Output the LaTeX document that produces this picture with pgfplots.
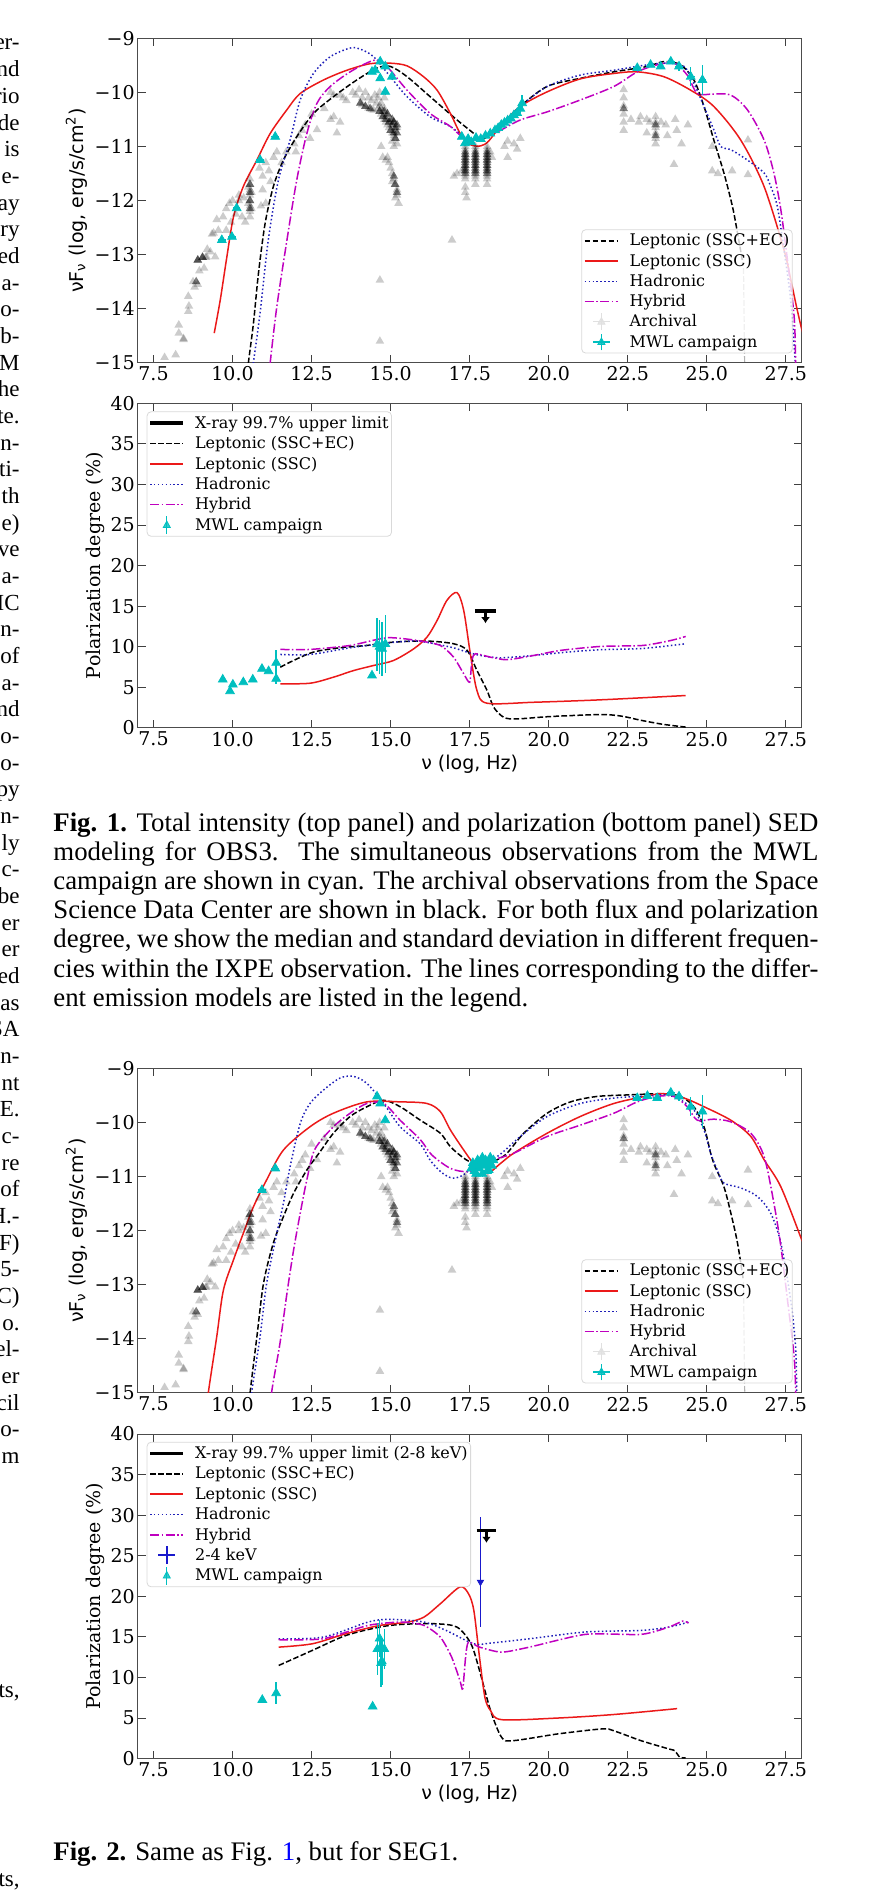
\documentclass[border=0pt]{standalone}
\usepackage{fontspec}
\setmainfont{Liberation Serif}
\newfontfamily\dvs{DejaVu Serif}
\newfontfamily\dvsans{DejaVu Sans}
\usepackage{pgfplots}
\usepackage{pgfplotstable}
\pgfplotsset{compat=1.18}
\usetikzlibrary{arrows.meta}

\definecolor{mcyan}{rgb}{0,0.75,0.75}
\definecolor{mred}{rgb}{0.92,0.1,0.1}
\definecolor{mblue}{rgb}{0.12,0.12,0.72}
\definecolor{mmag}{rgb}{0.75,0,0.75}
\definecolor{kevblue}{rgb}{0.1,0.1,0.8}

\tikzset{
  dashk/.style={black, line width=0.75pt, dash pattern=on 2.8pt off 1.2pt},
  solr/.style={mred, line width=0.75pt},
  dotb/.style={mblue, line width=0.75pt, dash pattern=on 0.75pt off 1.2pt},
  ddm/.style={mmag, line width=0.75pt, dash pattern=on 4.6pt off 1.2pt on 0.75pt off 1.2pt},
}

% legend samples
\newcommand\legpad{\path[draw=none, fill=none] (0pt,-0.1pt) rectangle (22.5pt,0.1pt);}
\newcommand\legline[1]{\legpad\draw[#1] (1pt,0pt)--(17.7pt,0pt);}
\newcommand\legcross[1]{\legpad\draw[#1, line width=0.7pt] (5.2pt,0pt)--(13.5pt,0pt) (9.35pt,-4.2pt)--(9.35pt,4.2pt);
  \fill[#1, sharp corners] (9.35pt,2pt)--(7.6pt,-1.2pt)--(11.1pt,-1.2pt)--cycle;}
\newcommand\legvbar[1]{\legpad\draw[#1, line width=0.7pt] (9.35pt,-4.5pt)--(9.35pt,4.5pt);
  \fill[#1, sharp corners] (9.35pt,2pt)--(7.6pt,-1.2pt)--(11.1pt,-1.2pt)--cycle;}
\newcommand\legplus[1]{\legpad\draw[#1, line width=0.8pt] (5.2pt,0pt)--(13.5pt,0pt) (9.35pt,-4.5pt)--(9.35pt,4.5pt);}

\pgfplotsset{
  panel/.style={
    scale only axis, width=332pt, height=162.3pt, anchor=north west,
    xmin=7, xmax=28,
    xtick={7.5,10,12.5,15,17.5,20,22.5,25,27.5},
    xticklabels={7.5,10.0,12.5,15.0,17.5,20.0,22.5,25.0,27.5},
    xtick pos=both, ytick pos=both, xticklabel pos=lower, yticklabel pos=left,
    tick align=inside, major tick length=4pt,
    every tick/.style={black!75, line width=0.45pt},
    axis line style={black!70, line width=0.5pt},
    tick label style={font=\dvs\fontsize{9.5}{11}\selectfont},
    xticklabel style={inner sep=1.8pt},
    yticklabel style={inner sep=1.3pt},
    legend cell align=left,
    legend style={draw=black!15, fill=white, fill opacity=0.8, text opacity=1,
      rounded corners=2pt, inner sep=0.5pt, row sep=0pt, nodes={inner sep=1pt}},
  },
  sedpanel/.style={panel, ymin=-15, ymax=-9, ytick={-15,-14,...,-9},
    yticklabels={−15,−14,−13,−12,−11,−10,−9},
    ylabel={\dvsans νF\textsubscript{ν} (log, erg/s/cm\textsuperscript{2})},
    ylabel style={font=\fontsize{9.5}{11}\selectfont, at={(axis description cs:-0.0819,0.5)}, anchor=base},
    legend style={at={(0.9864,0.029)}, anchor=south east, font=\dvs\fontsize{8}{9.45}\selectfont}},
  polpanel/.style={panel, ymin=0, ymax=40, ytick={0,5,...,40},
    yticklabels={0,5,10,15,20,25,30,35,40},
    ylabel={\dvs Polarization degree (\%)},
    ylabel style={font=\fontsize{9.5}{11}\selectfont, at={(axis description cs:-0.0557,0.5)}, anchor=base},
    xlabel={\dvsans ν (log, Hz)},
    xlabel style={font=\fontsize{9.5}{11}\selectfont, at={(axis description cs:0.5,-0.127)}, anchor=base},
    legend style={at={(0.01355,0.975)}, anchor=north west, font=\dvs\fontsize{8}{9.58}\selectfont}},
  arch/.style={forget plot, only marks, mark=triangle*, mark size=2.5pt,
    mark options={draw opacity=0, fill=black, fill opacity=0.2}},
  archdense/.style={forget plot, only marks, mark=triangle*, mark size=2.5pt,
    mark options={draw opacity=0, fill=black, fill opacity=0.5}},
  mwl/.style={forget plot, only marks, mcyan, mark=triangle*, mark size=2.5pt,
    error bars/.cd, x dir=both, x explicit, y dir=both, y explicit,
    error bar style={mcyan, line width=0.7pt}, error mark=none},
}

% archival SSDC points (same for both epochs)
\pgfplotstableread{
x y
7.85 -14.9
8.2 -14.85
8.3 -14.3
8.3 -14.45
8.45 -14.55
8.45 -14.57
8.6 -14.05
8.6 -13.77
8.62 -13.95
8.75 -13.5
8.8 -13.6
8.9 -13.55
8.9 -13.1
8.9 -13.1
8.95 -13.3
9.05 -13.05
9.05 -13.05
9.1 -13.25
9.15 -13.05
9.18 -13.04
9.2 -12.9
9.3 -12.95
9.35 -12.62
9.4 -12.6
9.45 -13.04
9.55 -12.55
9.5 -12.35
9.7 -12.3
9.8 -12.15
9.9 -12.05
10.0 -12.0
10.1 -12.25
10.2 -12.0
10.2 -11.9
10.3 -12.3
10.35 -11.95
9.95 -12.4
9.8 -12.55
10.4 -12.4
10.55 -11.6
10.55 -11.7
10.55 -11.8
10.55 -11.9
10.55 -12.0
10.55 -12.1
10.55 -12.2
10.55 -12.3
10.5 -11.75
10.6 -11.85
10.5 -12.05
10.6 -12.15
10.85 -11.4
10.95 -11.55
11.05 -11.3
11.15 -11.45
11.3 -11.2
11.4 -11.1
11.55 -11.3
11.7 -11.1
10.9 -12.1
11.05 -12.05
11.2 -11.65
10.95 -11.8
11.95 -10.95
12.1 -10.8
12.2 -10.7
12.3 -10.6
12.45 -10.85
12.5 -10.4
12.67 -10.69
12.0 -11.1
13.1 -10.5
13.2 -10.45
13.4 -10.55
12.9 -10.3
13.3 -10.75
13.1 -10.0
13.4 -10.05
13.2 -10.05
13.5 -10.1
13.8 -10.0
13.9 -10.05
14.0 -9.95
14.1 -10.1
14.2 -10.0
14.3 -10.1
14.4 -10.15
13.6 -10.15
14.04 -10.2
14.1 -10.23
14.2 -10.26
14.3 -10.29
14.4 -10.32
14.46 -10.33
14.5 -10.05
14.55 -10.2
14.6 -10.3
14.65 -10.35
14.7 -10.4
14.75 -10.45
14.8 -10.5
14.85 -10.55
14.9 -10.6
14.95 -10.65
15.0 -10.7
15.05 -10.75
15.1 -10.8
15.15 -10.7
15.2 -10.65
15.1 -10.55
15.0 -10.5
14.9 -10.4
14.8 -10.3
14.7 -10.2
14.6 -10.1
15.05 -10.9
15.15 -10.85
15.2 -10.95
15.1 -11.0
14.65 -10.0
14.8 -10.1
14.7 -10.3
14.95 -10.55
14.85 -10.45
14.75 -10.35
14.65 -10.25
14.75 -11.2
14.85 -11.25
14.9 -11.2
14.95 -11.3
15.0 -11.4
15.05 -11.5
15.1 -11.6
15.15 -11.7
15.2 -11.8
15.2 -11.9
15.15 -11.95
15.05 -11.65
15.25 -12.05
14.7 -11.0
14.66 -13.47
14.66 -14.6
16.94 -12.73
17.0 -11.55
17.1 -11.5
17.25 -11.45
17.4 -11.95
17.36 -11.0
17.36 -11.05
17.36 -11.15
17.36 -11.25
17.36 -11.35
17.36 -11.45
17.36 -11.55
17.36 -11.6
17.36 -11.75
17.36 -11.85
17.68 -11.0
17.68 -11.05
17.68 -11.15
17.68 -11.25
17.68 -11.35
17.68 -11.45
17.68 -11.55
17.68 -11.6
17.68 -11.7
18.05 -11.0
18.05 -11.05
18.05 -11.15
18.05 -11.25
18.05 -11.35
18.05 -11.45
18.05 -11.55
18.05 -11.6
18.05 -11.7
18.15 -11.1
18.2 -11.2
18.6 -11.0
18.7 -10.9
18.9 -10.95
19.1 -10.85
19.0 -11.05
18.7 -11.2
22.37 -9.95
22.37 -10.1
22.37 -10.25
22.37 -10.4
22.37 -10.55
22.37 -10.7
22.6 -10.5
22.85 -10.55
22.9 -10.45
23.1 -10.5
23.2 -10.55
23.1 -10.75
23.38 -10.45
23.38 -10.55
23.38 -10.65
23.38 -10.75
23.38 -10.85
23.38 -10.95
23.55 -10.55
23.7 -10.6
23.75 -10.8
24.0 -10.5
24.05 -10.7
24.4 -10.6
23.96 -11.33
24.2 -10.95
25.17 -11.0
25.17 -11.45
25.35 -11.5
25.8 -11.45
26.3 -10.88
26.3 -11.52
}\archival

% the densest parts of the archival SED (many overlapping epochs)
\pgfplotstableread{
x y
8.9 -13.1
9.05 -13.05
8.85 -13.5
10.55 -11.7
10.55 -11.85
10.55 -12.0
10.55 -12.15
14.04 -10.2
14.2 -10.26
14.35 -10.3
14.65 -10.35
14.75 -10.45
14.85 -10.5
14.95 -10.55
15.05 -10.6
15.15 -10.65
15.2 -10.75
15.1 -10.75
14.9 -10.4
14.8 -10.35
15.0 -10.7
15.1 -10.55
15.15 -10.85
15.05 -10.5
15.2 -10.6
15.1 -11.55
15.14 -11.7
15.2 -11.85
17.36 -11.1
17.36 -11.2
17.36 -11.3
17.36 -11.4
17.36 -11.5
17.36 -11.15
17.36 -11.25
17.36 -11.35
17.36 -11.45
17.68 -11.1
17.68 -11.2
17.68 -11.3
17.68 -11.4
17.68 -11.5
17.68 -11.15
17.68 -11.25
17.68 -11.35
17.68 -11.45
18.05 -11.1
18.05 -11.2
18.05 -11.3
18.05 -11.4
18.05 -11.5
18.05 -11.15
18.05 -11.25
18.05 -11.35
18.05 -11.45
22.37 -10.3
23.38 -10.6
23.38 -10.8
}\archdense

\begin{document}
\begin{tikzpicture}
\useasboundingbox (0pt,0pt) rectangle (436.5pt,-949pt);

% end of the neighbouring text column
\foreach \t [count=\k from 0, evaluate=\k as \yy using -(50+26.67*\k)*0.5] in
  {er-,nd,rio,de,is,e-,ay,ry,ed,a-,o-,b-,M,he,te.,n-,ti-,th,e),ve,a-,IC,n-,of,a-,nd,o-,o-,py,n-,
   ly,c-,be,er,er,ed,as,SA,n-,nt,E.,c-,re,of,H.-,F),5-,C),o.,el-,er,cil,o-,m}
  \node[anchor=base east, inner sep=0pt, font=\fontsize{11.5}{13}\selectfont] at (10pt,\yy pt) {\t};
\node[anchor=base east, inner sep=0pt, font=\fontsize{11.5}{13}\selectfont] at (10pt,-848.5pt) {ts,};
\node[anchor=base east, inner sep=0pt, font=\fontsize{11.5}{13}\selectfont] at (10pt,-943pt) {ts,};

% ---------- Fig. 1, total intensity ----------
\begin{axis}[sedpanel, at={(68.85pt,-19.15pt)}]
\addplot[arch] table[x=x,y=y] {\archival};
\addplot[archdense] table[x=x,y=y] {\archdense};
\addplot[forget plot, dashk, smooth, tension=0.5] coordinates {
(10.45,-15.3)(10.5,-15.0)(10.66,-14.27)(10.82,-13.34)(11.03,-12.42)(11.29,-11.74)(11.61,-11.25)
(12.03,-10.82)(12.56,-10.39)(13.19,-10.08)(13.93,-9.77)(14.57,-9.55)(14.99,-9.52)(15.52,-9.71)
(16.25,-10.08)(17.1,-10.51)(17.63,-10.76)(17.84,-10.88)(18.37,-10.69)(19.1,-10.26)(19.95,-9.89)
(21.0,-9.74)(22.06,-9.62)(23.12,-9.52)(23.64,-9.43)(24.17,-9.49)(24.59,-9.77)(24.91,-10.26)
(25.22,-10.88)(25.54,-11.49)(25.81,-12.11)(25.97,-12.6)(26.15,-13.2)};
\addplot[forget plot, black!30, line width=0.6pt, dash pattern=on 2.8pt off 1.2pt] coordinates {(26.16,-13.25)(26.2,-15.2)};
\addplot[forget plot, solr, smooth, tension=0.5] coordinates {
(9.42,-14.45)(9.61,-13.84)(9.82,-13.04)(10.03,-12.3)(10.34,-11.74)(10.77,-11.25)(11.19,-10.76)
(11.72,-10.32)(12.14,-10.02)(12.88,-9.77)(13.62,-9.59)(14.35,-9.47)(14.99,-9.46)(15.52,-9.51)
(16.04,-9.71)(16.47,-9.96)(16.89,-10.39)(17.2,-10.76)(17.5,-10.96)(17.84,-10.99)(18.1,-10.9)
(18.5,-10.6)(19.1,-10.26)(19.95,-9.99)(21.0,-9.75)(22.06,-9.65)(22.8,-9.62)(23.64,-9.71)
(24.49,-9.96)(25.22,-10.26)(26.07,-10.88)(26.81,-11.74)(27.44,-12.91)(27.65,-13.45)(27.85,-14.0)(28.05,-14.5)};
\addplot[forget plot, dotb, smooth, tension=0.5] coordinates {
(10.62,-15.3)(10.66,-15.0)(10.87,-14.08)(11.13,-12.73)(11.45,-11.62)(11.82,-10.88)(12.14,-10.14)
(12.56,-9.65)(13.09,-9.34)(13.72,-9.18)(14.04,-9.2)(14.46,-9.34)(14.99,-9.71)(15.52,-10.08)
(16.25,-10.45)(16.89,-10.63)(17.31,-10.82)(17.63,-10.88)(17.84,-10.85)(18.37,-10.66)(19.1,-10.26)
(19.95,-9.89)(21.0,-9.68)(22.06,-9.59)(23.12,-9.49)(23.75,-9.46)(24.28,-9.52)(24.59,-9.83)
(24.91,-10.26)(25.22,-10.69)(25.44,-11.0)(25.76,-11.06)(26.28,-11.25)(26.81,-11.49)(27.02,-11.74)
(27.23,-12.11)(27.44,-12.91)(27.65,-13.84)(27.8,-15.0)(27.82,-15.3)};
\addplot[forget plot, ddm, smooth, tension=0.5] coordinates {
(11.15,-15.3)(11.19,-15.0)(11.4,-13.96)(11.72,-12.73)(12.03,-11.62)(12.35,-10.76)(12.67,-10.2)
(13.09,-9.89)(13.72,-9.62)(14.35,-9.43)(14.67,-9.41)(14.99,-9.59)(15.52,-9.96)(16.25,-10.39)
(16.89,-10.63)(17.31,-10.85)(17.63,-10.88)(18.37,-10.73)(19.1,-10.51)(19.95,-10.36)(21.0,-10.14)
(22.06,-9.89)(22.8,-9.62)(23.43,-9.49)(23.96,-9.46)(24.38,-9.68)(24.7,-10.02)(25.22,-10.03)
(25.76,-10.05)(26.28,-10.32)(26.81,-10.88)(27.12,-11.49)(27.34,-12.17)(27.55,-13.1)(27.76,-14.14)
(27.81,-15.0)(27.82,-15.3)};
\addplot[mwl] coordinates {
(9.66,-12.73) +- (0.12,0.04) (9.98,-12.67) +- (0.12,0.04) (10.13,-12.14) +- (0.12,0.04)
(10.87,-11.25) +- (0.12,0.04) (11.35,-10.82) +- (0.12,0.05)
(14.41,-9.62) +- (0.1,0.04) (14.51,-9.59) +- (0.1,0.04) (14.67,-9.43) +- (0.1,0.05)
(14.83,-9.52) +- (0.1,0.04) (14.67,-9.74) +- (0.1,0.05) (15.04,-9.71) +- (0.1,0.04)
(14.83,-9.99) +- (0.1,0.05)
(17.25,-10.82) +- (0.08,0.05) (17.35,-10.94) +- (0.08,0.05) (17.45,-10.86) +- (0.08,0.05)
(17.55,-10.92) +- (0.08,0.05) (17.7,-10.84) +- (0.08,0.05) (17.85,-10.86) +- (0.08,0.05)
(18.0,-10.8) +- (0.08,0.05) (18.15,-10.76) +- (0.08,0.05) (18.3,-10.7) +- (0.08,0.05)
(18.4,-10.66) +- (0.08,0.05) (18.5,-10.6) +- (0.08,0.05) (18.6,-10.56) +- (0.08,0.05)
(18.7,-10.52) +- (0.08,0.05) (18.8,-10.48) +- (0.08,0.05) (18.9,-10.42) +- (0.08,0.05)
(19.0,-10.38) +- (0.08,0.06) (19.1,-10.3) +- (0.08,0.08) (19.16,-10.2) +- (0.08,0.15)
(22.8,-9.55) +- (0.12,0.04) (23.22,-9.49) +- (0.12,0.04) (23.54,-9.52) +- (0.12,0.05)
(23.86,-9.43) +- (0.12,0.05) (24.12,-9.52) +- (0.12,0.08) (24.49,-9.71) +- (0.12,0.18)
(24.86,-9.77) +- (0.12,0.28)};
\addlegendimage{legend image code/.code={\legline{dashk}}}
\addlegendentry{\strut Leptonic (SSC+EC)}
\addlegendimage{legend image code/.code={\legline{solr}}}
\addlegendentry{\strut Leptonic (SSC)}
\addlegendimage{legend image code/.code={\legline{dotb}}}
\addlegendentry{\strut Hadronic}
\addlegendimage{legend image code/.code={\legline{ddm}}}
\addlegendentry{\strut Hybrid}
\addlegendimage{legend image code/.code={\legcross{black!12}}}
\addlegendentry{\strut Archival}
\addlegendimage{legend image code/.code={\legcross{mcyan}}}
\addlegendentry{\strut MWL campaign}
\end{axis}

% ---------- Fig. 1, polarization ----------
\begin{axis}[polpanel, at={(68.85pt,-201.65pt)}]
\addplot[forget plot, dashk, smooth, tension=0.5] coordinates {
(11.51,7.48)(11.93,8.31)(12.56,9.34)(13.4,9.88)(14.25,10.16)(15.09,10.57)(16.15,10.7)(16.99,10.37)
(17.42,9.55)(17.73,7.07)(18.05,4.6)(18.26,2.54)(18.58,1.3)(19.0,1.11)(20.05,1.4)(21.64,1.64)
(22.3,1.45)(22.9,0.95)(23.6,0.45)(24.33,0.1)};
\addplot[forget plot, solr, smooth, tension=0.5] coordinates {
(11.51,5.43)(12.46,5.51)(13.19,6.25)(13.83,7.07)(14.46,7.69)(15.09,8.31)(15.73,9.75)(16.15,11.19)
(16.47,13.25)(16.78,15.72)(17.1,16.67)(17.31,14.48)(17.52,9.14)(17.73,4.6)(18.05,3.04)(19.53,3.16)
(21.64,3.46)(24.33,3.99)};
\addplot[forget plot, dotb, smooth, tension=0.5] coordinates {
(11.51,9.05)(12.46,9.05)(13.72,9.88)(14.88,10.45)(15.83,10.7)(16.89,9.96)(17.42,9.34)(17.84,8.93)
(18.47,8.64)(19.53,8.93)(20.58,9.34)(21.64,9.63)(23.0,9.8)(24.33,10.37)};
\addplot[forget plot, ddm, smooth, tension=0.4] coordinates {
(11.51,9.67)(12.46,9.67)(13.72,10.16)(14.88,11.11)(15.83,10.78)(16.57,10.16)(16.99,8.72)(17.31,6.67)
(17.5,5.63)(17.57,8.31)(17.68,9.14)(18.15,8.72)(18.68,8.4)(19.53,8.93)(20.37,9.55)(21.64,10.04)
(22.98,10.16)(23.87,10.78)(24.33,11.27)};
\addplot[mwl] coordinates {
(9.69,5.96) (10.01,5.34) (9.92,4.52) (10.34,5.63) (10.64,5.96) (10.93,7.28) (11.14,6.99)
(11.38,8.02) +- (0,1.55) (11.38,6.05) +- (0,0.6) (14.41,6.46)
(14.57,10.3) +- (0,3.25) (14.65,10.0) +- (0,3.33) (14.73,9.75) +- (0,3.3) (14.83,10.35) +- (0,3.6)};
\addplot[forget plot, black, line width=1.7pt] coordinates {(17.66,14.4)(18.32,14.4)};
\addplot[forget plot, black, line width=1.1pt, -{Latex[length=3pt,width=4.5pt]}] coordinates {(18.0,14.4)(18.0,12.9)};
\addlegendimage{legend image code/.code={\legline{black, line width=1.7pt}}}
\addlegendentry{\strut X-ray 99.7\% upper limit}
\addlegendimage{legend image code/.code={\legline{dashk}}}
\addlegendentry{\strut Leptonic (SSC+EC)}
\addlegendimage{legend image code/.code={\legline{solr}}}
\addlegendentry{\strut Leptonic (SSC)}
\addlegendimage{legend image code/.code={\legline{dotb}}}
\addlegendentry{\strut Hadronic}
\addlegendimage{legend image code/.code={\legline{ddm}}}
\addlegendentry{\strut Hybrid}
\addlegendimage{legend image code/.code={\legvbar{mcyan}}}
\addlegendentry{\strut MWL campaign}
\end{axis}

% caption of Fig. 1
\begin{scope}[every node/.style={anchor=base west, inner sep=0pt, font=\fontsize{13.4}{14.65}\selectfont}]
\node at (26.5pt,-415.5pt) {\makebox[382.5pt][s]{\textbf{Fig. 1.} Total intensity (top panel) and polarization (bottom panel) SED}};
\node at (26.5pt,-430pt) {\makebox[382.5pt][s]{modeling for OBS3. The simultaneous observations from the MWL}};
\node at (26.5pt,-444.65pt) {\makebox[382.5pt][s]{campaign are shown in cyan. The archival observations from the Space}};
\node at (26.5pt,-459.3pt) {\makebox[382.5pt][s]{Science Data Center are shown in black. For both flux and polarization}};
\node at (26.5pt,-473.95pt) {\makebox[382.5pt][s]{degree, we show the median and standard deviation in different frequen-}};
\node at (26.5pt,-488.6pt) {\makebox[382.5pt][s]{cies within the IXPE observation. The lines corresponding to the differ-}};
\node at (26.5pt,-503.25pt) {ent emission models are listed in the legend.};
\node at (26.5pt,-930pt) {\textbf{Fig. 2.} Same as Fig. \textcolor{blue}{1}, but for SEG1.};
\end{scope}

% ---------- Fig. 2, total intensity ----------
\begin{axis}[sedpanel, at={(68.85pt,-534.15pt)}]
\addplot[arch] table[x=x,y=y] {\archival};
\addplot[archdense] table[x=x,y=y] {\archdense};
\addplot[forget plot, dashk, smooth, tension=0.5] coordinates {
(10.53,-15.3)(10.56,-14.97)(10.77,-13.96)(10.98,-12.97)(11.29,-12.23)(11.61,-11.74)(11.93,-11.31)
(12.35,-10.88)(12.77,-10.54)(13.19,-10.2)(13.72,-9.89)(14.25,-9.71)(14.78,-9.59)(15.3,-9.71)
(15.94,-9.96)(16.57,-10.2)(16.89,-10.45)(17.31,-10.66)(17.6,-10.75)(17.9,-10.78)(18.37,-10.69)
(18.68,-10.57)(19.21,-10.2)(19.95,-9.83)(20.69,-9.62)(21.53,-9.52)(22.59,-9.49)(23.64,-9.47)
(24.17,-9.52)(24.59,-9.71)(24.91,-10.08)(25.12,-10.57)(25.22,-10.76)(25.54,-11.19)(25.76,-11.68)
(25.97,-12.23)(26.15,-12.9)};
\addplot[forget plot, black!30, line width=0.6pt, dash pattern=on 2.8pt off 1.2pt] coordinates {(26.16,-12.95)(26.2,-15.2)};
\addplot[forget plot, solr, smooth, tension=0.5] coordinates {
(9.2,-15.3)(9.24,-14.97)(9.5,-13.96)(9.71,-13.1)(10.03,-12.54)(10.34,-12.05)(10.66,-11.56)
(11.08,-11.06)(11.61,-10.51)(12.45,-10.08)(13.19,-9.83)(14.25,-9.62)(15.3,-9.62)(16.15,-9.65)
(16.57,-9.8)(16.89,-10.14)(17.31,-10.51)(17.63,-10.76)(18.05,-10.94)(18.47,-10.76)(18.89,-10.57)
(19.95,-10.2)(21.0,-9.89)(22.06,-9.65)(23.12,-9.51)(23.64,-9.47)(24.28,-9.55)(24.91,-9.71)
(25.76,-9.96)(26.39,-10.26)(26.81,-10.69)(27.34,-11.19)(28.0,-12.17)(28.1,-12.35)};
\addplot[forget plot, dotb, smooth, tension=0.5] coordinates {
(10.58,-15.3)(10.61,-14.97)(10.87,-13.96)(11.08,-12.97)(11.4,-12.05)(11.61,-11.49)(11.82,-10.82)
(12.14,-10.02)(12.45,-9.65)(12.88,-9.4)(13.4,-9.18)(13.83,-9.15)(14.25,-9.28)(14.78,-9.65)
(15.3,-10.08)(15.94,-10.4)(16.25,-10.7)(16.6,-10.92)(16.95,-11.03)(17.3,-10.97)(17.73,-10.76)
(18.37,-10.63)(19.1,-10.26)(19.95,-9.89)(21.0,-9.65)(22.06,-9.55)(23.12,-9.51)(23.64,-9.49)
(24.06,-9.55)(24.59,-9.77)(24.91,-10.14)(25.12,-10.57)(25.33,-10.88)(25.54,-11.12)(26.07,-11.21)
(26.6,-11.37)(27.02,-11.68)(27.34,-12.23)(27.65,-13.28)(27.81,-14.2)(27.85,-15.3)};
\addplot[forget plot, ddm, smooth, tension=0.5] coordinates {
(11.21,-15.3)(11.24,-14.97)(11.5,-14.08)(11.72,-13.16)(11.93,-12.36)(12.14,-11.68)(12.35,-11.06)
(12.6,-10.5)(13.19,-10.08)(13.72,-9.83)(14.25,-9.65)(14.78,-9.65)(15.3,-9.96)(15.94,-10.32)
(16.3,-10.6)(16.89,-10.85)(17.42,-10.91)(17.84,-10.82)(18.26,-10.69)(18.89,-10.57)(19.95,-10.26)
(21.0,-10.05)(22.06,-9.83)(22.8,-9.62)(23.43,-9.52)(23.96,-9.52)(24.38,-9.71)(24.7,-9.96)
(25.22,-9.94)(25.76,-9.99)(26.39,-10.2)(26.81,-10.63)(27.12,-11.49)(27.34,-12.29)(27.55,-13.28)
(27.76,-14.33)(27.81,-15.0)(27.82,-15.3)};
\addplot[mwl] coordinates {
(10.93,-11.25) +- (0.12,0.04) (11.35,-10.85) +- (0.12,0.05)
(14.57,-9.52) +- (0.1,0.04) (14.67,-9.65) +- (0.1,0.05) (14.83,-9.96) +- (0.1,0.05)
(17.55,-10.85) +- (0.06,0.05) (17.6,-10.75) +- (0.06,0.05) (17.65,-10.9) +- (0.06,0.05)
(17.7,-10.8) +- (0.06,0.05) (17.75,-10.7) +- (0.06,0.05) (17.8,-10.85) +- (0.06,0.05)
(17.85,-10.75) +- (0.06,0.05) (17.9,-10.65) +- (0.06,0.05) (17.95,-10.8) +- (0.06,0.05)
(18.0,-10.7) +- (0.06,0.05) (18.05,-10.9) +- (0.06,0.05) (18.1,-10.75) +- (0.06,0.05)
(18.15,-10.65) +- (0.06,0.05) (18.2,-10.8) +- (0.06,0.05) (18.25,-10.7) +- (0.06,0.05)
(17.7,-10.95) +- (0.06,0.05) (17.9,-10.95) +- (0.06,0.05) (18.1,-10.88) +- (0.06,0.05)
(22.8,-9.55) +- (0.12,0.04) (23.12,-9.51) +- (0.12,0.04) (23.43,-9.55) +- (0.12,0.05)
(23.86,-9.45) +- (0.12,0.05) (24.12,-9.52) +- (0.12,0.08) (24.49,-9.71) +- (0.12,0.18)
(24.86,-9.8) +- (0.12,0.3)};
\addlegendimage{legend image code/.code={\legline{dashk}}}
\addlegendentry{\strut Leptonic (SSC+EC)}
\addlegendimage{legend image code/.code={\legline{solr}}}
\addlegendentry{\strut Leptonic (SSC)}
\addlegendimage{legend image code/.code={\legline{dotb}}}
\addlegendentry{\strut Hadronic}
\addlegendimage{legend image code/.code={\legline{ddm}}}
\addlegendentry{\strut Hybrid}
\addlegendimage{legend image code/.code={\legcross{black!12}}}
\addlegendentry{\strut Archival}
\addlegendimage{legend image code/.code={\legcross{mcyan}}}
\addlegendentry{\strut MWL campaign}
\end{axis}

% ---------- Fig. 2, polarization ----------
\begin{axis}[polpanel, at={(68.85pt,-717pt)}, legend style={at={(0.01355,0.976)}, font=\dvs\fontsize{8}{9.55}\selectfont}]
\addplot[forget plot, dashk, smooth, tension=0.5] coordinates {
(11.46,11.48)(12.52,13.33)(13.58,15.17)(14.64,16.2)(15.34,16.54)(16.4,16.62)(17.1,16.2)(17.54,14.15)
(17.81,10.86)(18.16,5.92)(18.51,2.62)(18.87,2.21)(20.28,3.04)(21.69,3.66)(22.04,3.45)(22.92,2.21)
(23.8,1.19)(23.98,0.98)(24.15,0.16)(24.33,0.1)};
\addplot[forget plot, solr, smooth, tension=0.5] coordinates {
(11.46,13.74)(12.52,14.15)(13.58,15.38)(14.64,16.4)(15.52,16.81)(16.05,17.43)(16.57,19.08)(17.19,21.15)
(17.46,20.33)(17.63,18.27)(17.81,12.5)(17.98,7.57)(18.16,5.92)(18.51,4.8)(20.28,5.0)(22.04,5.43)(24.06,6.16)};
\addplot[forget plot, dotb, smooth, tension=0.5] coordinates {
(11.46,14.77)(12.87,14.98)(14.29,16.83)(14.99,17.16)(16.05,16.83)(16.75,15.8)(17.63,14.15)(18.16,14.24)
(19.39,14.77)(21.16,15.6)(22.92,15.8)(23.8,16.21)(24.42,16.83)};
\addplot[forget plot, ddm, smooth, tension=0.4] coordinates {
(11.46,14.65)(12.87,14.77)(14.29,16.42)(15.34,16.83)(16.05,16.42)(16.57,14.98)(16.93,12.5)(17.19,9.63)
(17.28,8.6)(17.37,12.5)(17.46,14.36)(17.81,13.74)(18.51,13.12)(19.39,13.74)(21.16,15.31)(22.92,15.31)
(23.8,16.21)(24.24,16.95)(24.42,16.7)};
\addplot[mwl] coordinates {
(10.94,7.24) (11.38,8.06) +- (0,1.35) (14.43,6.42)
(14.58,13.5) +- (0,3.2) (14.65,14.8) +- (0,2.3) (14.72,12.0) +- (0,2.9) (14.8,13.5) +- (0,2.5) (14.7,11.8) +- (0,3.0)};
\addplot[forget plot, only marks, kevblue, mark=triangle*, mark size=1.8pt, mark options={rotate=180},
  error bars/.cd, y dir=both, y explicit, error bar style={kevblue, line width=0.8pt}, error mark=none]
  coordinates {(17.84,21.77) += (0,8.03) -= (0,5.57)};
\addplot[forget plot, black, line width=1.7pt] coordinates {(17.72,28.1)(18.34,28.1)};
\addplot[forget plot, black, line width=1.1pt, -{Latex[length=3pt,width=4.5pt]}] coordinates {(18.03,28.1)(18.03,26.6)};
\addlegendimage{legend image code/.code={\legline{black, line width=1.7pt}}}
\addlegendentry{\strut X-ray 99.7\% upper limit (2-8 keV)}
\addlegendimage{legend image code/.code={\legline{dashk}}}
\addlegendentry{\strut Leptonic (SSC+EC)}
\addlegendimage{legend image code/.code={\legline{solr}}}
\addlegendentry{\strut Leptonic (SSC)}
\addlegendimage{legend image code/.code={\legline{dotb}}}
\addlegendentry{\strut Hadronic}
\addlegendimage{legend image code/.code={\legline{ddm}}}
\addlegendentry{\strut Hybrid}
\addlegendimage{legend image code/.code={\legplus{kevblue}}}
\addlegendentry{\strut 2-4 keV}
\addlegendimage{legend image code/.code={\legvbar{mcyan}}}
\addlegendentry{\strut MWL campaign}
\end{axis}
\end{tikzpicture}
\end{document}
